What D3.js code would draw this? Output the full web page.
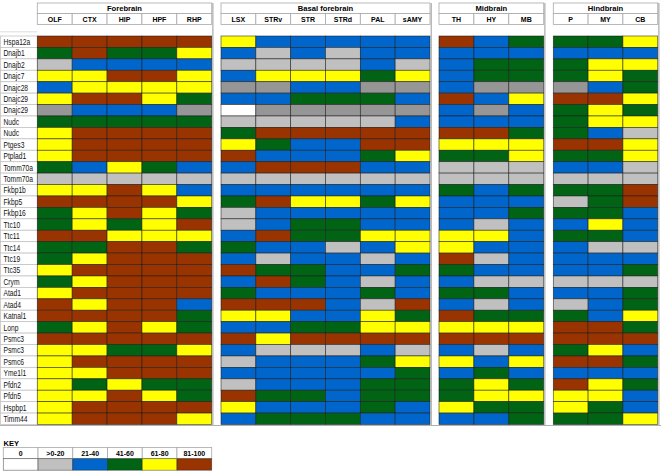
<!DOCTYPE html>
<html><head><meta charset="utf-8">
<script src="https://cdn.jsdelivr.net/npm/d3@7"></script>
<style>body{margin:0;background:#fff}svg{display:block}text{font-family:"Liberation Sans",Arial,sans-serif}</style>
</head><body><svg id="c" width="661" height="474"></svg>
<script>
// ---- data ----
const genes = ["Hspa12a","Dnajb1","Dnajb2","Dnajc7","Dnajc28","Dnajc29","Dnajc29","Nudc","Nudc","Ptges3","Ptplad1","Tomm70a","Tomm70a","Fkbp1b","Fkbp5","Fkbp16","Ttc10","Ttc11","Ttc14","Ttc19","Ttc35","Crym","Atad1","Atad4","Katnal1","Lonp","Psmc3","Psmc3","Psmc6","Yme1l1","Pfdn2","Pfdn5","Hspbp1","Timm44"];
const groupNames = ["Forebrain","Basal forebrain","Midbrain","Hindbrain"];
const forebrainCols = ["OLF","CTX","HIP","HPF","RHP"];
const basalCols = ["LSX","STRv","STR","STRd","PAL","sAMY"];
const midbrainCols = ["TH","HY","MB"];
const hindbrainCols = ["P","MY","CB"];
// codes: 0 = 0, 1 = >0-20, 2 = 21-40, 3 = 41-60, 4 = 61-80, 5 = 81-100, d = darker grey
const forebrainValues = ["55555","35334","12222","44554","24444","45543","d222d","33333","45555","45555","45555","32432","11111","44542","55554","34543","34345","55444","33553","34555","45555","34555","45555","54552","55553","34543","55555","44334","45555","44555","43433","44543","45555","45554"];
const basalValues = ["422222","212122","111121","244434","dd22dd","223332","0ddddd","111112","355555","432255","522234","255522","111111","222222","354434","122222","123322","253344","322124","212212","533223","253212","322232","555215","442243","223344","545555","211121","122234","222223","122233","533233","422232","233322"];
const midbrainValues = ["523","222","233","233","2dd","524","2d2","222","553","444","334","111","111","323","222","223","212","442","422","512","322","211","332","212","533","444","555","212","424","232","343","344","433","223"];
const hindbrainValues = ["334","222","344","343","d23","554","343","344","321","554","334","221","111","335","135","332","242","332","211","222","223","111","223","123","324","553","555","342","553","222","543","442","432","334"];
const keyLabels = ["0",">0-20","21-40","41-60","61-80","81-100"];
const keyCodes = ["0","1","2","3","4","5"];

// ---- layout ----
const svg = d3.select("#c");
const color = d3.scaleOrdinal()
  .domain(["0","1","2","3","4","5","d"])
  .range(["#ffffff","#c0c0c0","#0066cc","#006414","#ffff00","#993300","#969696"]);
const y = d3.scaleBand().domain(d3.range(genes.length)).range([36, 424.5]);
const groups = [
  {name: groupNames[0], cols: forebrainCols, vals: forebrainValues, range:[37.3, 211.7]},
  {name: groupNames[1], cols: basalCols, vals: basalValues, range:[221, 430]},
  {name: groupNames[2], cols: midbrainCols, vals: midbrainValues, range:[439, 543.7]},
  {name: groupNames[3], cols: hindbrainCols, vals: hindbrainValues, range:[553.3, 657.7]}
];
const gridC = "#a8a8a8";

// label column cells
const lab = svg.append("g");
lab.append("line").attr("x1",0).attr("x2",37.3).attr("y1",31.8).attr("y2",31.8).attr("stroke","#d4d4d4").attr("stroke-width",0.8);
genes.forEach((g,i)=>{
  lab.append("rect").attr("x",0.5).attr("y",y(i)).attr("width",36.8).attr("height",y.bandwidth())
    .attr("fill","#fff").attr("stroke","#c4c4c4").attr("stroke-width",0.8);
  lab.append("text").attr("transform",`translate(3.5,${y(i)+y.bandwidth()/2+3.2}) scale(0.78,1)`)
    .attr("font-size",8.6).attr("fill","#111").text(g);
});

groups.forEach(gr=>{
  const x = d3.scaleBand().domain(gr.cols).range(gr.range);
  const g = svg.append("g");
  // header
  g.append("rect").attr("x",gr.range[0]).attr("y",3).attr("width",gr.range[1]-gr.range[0]).attr("height",10.5)
    .attr("fill","#fff").attr("stroke",gridC).attr("stroke-width",0.8);
  g.append("text").attr("x",(gr.range[0]+gr.range[1])/2).attr("y",11.3).attr("text-anchor","middle")
    .attr("font-size",7.6).attr("font-weight","bold").text(gr.name);
  gr.cols.forEach(c=>{
    g.append("rect").attr("x",x(c)).attr("y",13.5).attr("width",x.bandwidth()).attr("height",11)
      .attr("fill","#fff").attr("stroke",gridC).attr("stroke-width",0.8);
    g.append("text").attr("x",x(c)+x.bandwidth()/2).attr("y",21.8).attr("text-anchor","middle")
      .attr("font-size",7).attr("font-weight","bold").text(c);
  });
  // cells
  const cells = [];
  gr.vals.forEach((row,i)=>{ row.split("").forEach((v,j)=>cells.push({i, c: gr.cols[j], v})); });
  g.selectAll("rect.cell").data(cells).join("rect").attr("class","cell")
    .attr("x",d=>x(d.c)).attr("y",d=>y(d.i)).attr("width",x.bandwidth()).attr("height",y.bandwidth())
    .attr("fill",d=>color(d.v)).attr("stroke","#1a1a1a").attr("stroke-opacity",0.75).attr("stroke-width",0.7);
  // right edge line
  g.append("line").attr("x1",gr.range[1]+1.2).attr("x2",gr.range[1]+1.2).attr("y1",3).attr("y2",425)
    .attr("stroke","#9a9a9a").attr("stroke-width",1);
});

// bottom line
svg.append("line").attr("x1",0).attr("x2",661).attr("y1",425.5).attr("y2",425.5).attr("stroke","#b0b0b0").attr("stroke-width",1);

// key
svg.append("text").attr("x",3.5).attr("y",445.5).attr("font-size",7.5).attr("font-weight","bold").text("KEY");
const kx = d3.scaleBand().domain(keyLabels).range([3.3, 211.7]);
const key = svg.append("g");
keyLabels.forEach((k,i)=>{
  key.append("rect").attr("x",kx(k)).attr("y",447.5).attr("width",kx.bandwidth()).attr("height",11.2)
    .attr("fill","#fff").attr("stroke",gridC).attr("stroke-width",0.8);
  key.append("text").attr("x",kx(k)+kx.bandwidth()/2).attr("y",456).attr("text-anchor","middle")
    .attr("font-size",7).attr("font-weight","bold").text(k);
  key.append("rect").attr("x",kx(k)).attr("y",458.7).attr("width",kx.bandwidth()).attr("height",11.5)
    .attr("fill",color(keyCodes[i])).attr("stroke","#1a1a1a").attr("stroke-opacity",0.6).attr("stroke-width",0.7);
});
</script></body></html>
